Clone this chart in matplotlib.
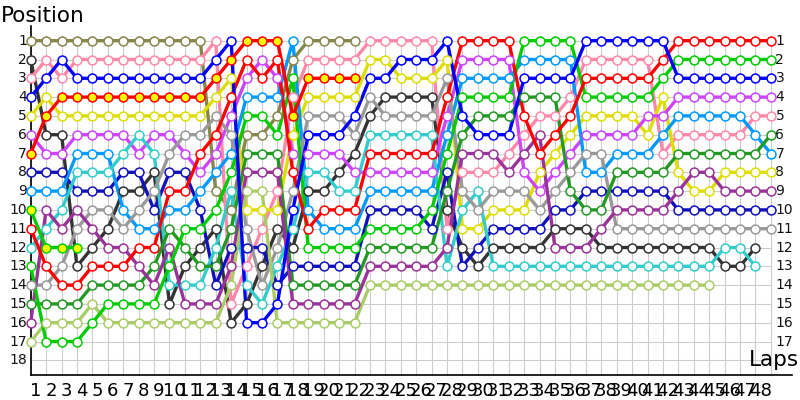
import matplotlib
matplotlib.use("Agg")
import matplotlib.pyplot as plt

N = None
laps = list(range(0, 49))
positions = list(range(1, 19))
right_labels = list(range(1, 18))

olive     = [1,1,1,1,1,1,1,1,1,1,1,1,9,10,6,6,5,2,1,1,1,1] + [N]*27
dkgray    = [2,6,6,13,12,11,9,9,8,15,13,12,11,16,15,13,11,12,9,9,8,7,5,4,4,4,4,10,12,13,12,12,12,12,11,11,11,12,12,12,12,12,12,12,12,13,13,12,N]
pink      = [3,2,3,2,2,2,2,2,2,2,2,2,1,15,13,11,9,4,2,2,2,2,1,1,1,1,1,11,8,8,8,7,6,5,5,4,2,2,2,2,2,7,6,6,6,6,6,5,5]
blue      = [4,3,2,3,3,3,3,3,3,3,3,3,2,1,16,16,15,10,6,6,6,5,3,3,2,2,2,1,5,6,6,6,3,3,3,3,1,1,1,1,1,1,3,3,3,3,3,3,3]
yellow    = [5,4,5,5,5,5,5,5,5,5,5,5,4,3,10,10,10,6,4,4,4,4,2,2,3,3,3,2,11,11,10,10,10,8,7,6,5,5,5,5,6,4,8,9,9,8,8,8,8]
lpurple   = [6,7,7,6,6,6,6,7,6,6,7,8,7,5,3,2,3,7,7,7,7,8,8,8,8,8,8,5,2,2,2,2,8,9,8,7,6,6,6,6,5,5,4,4,4,4,4,4,4]
red_a     = [7,5,4,4,4,4,4,4,4,4,4,4,3,2,1,1,1,5,3,3,3,3] + [N]*27
navy      = [8,8,8,9,9,9,8,8,10,8,8,10,14,12,12,12,14,13,13,13,13,13,10,10,10,10,11,8,13,12,11,11,11,11,10,10,9,9,9,9,9,9,10,10,10,10,10,10,10]
lblue     = [9,9,9,7,7,7,10,11,11,10,10,9,8,7,4,4,4,1,10,11,11,11,9,9,9,9,9,6,3,3,3,3,2,2,2,2,8,8,7,7,7,6,5,5,5,5,5,6,7]
green_a   = [10,12,12,12] + [N]*45
red_b     = [11,13,14,14,13,13,13,12,12,9,9,7,6,4,2,3,2,8,11,10,10,10,7,7,7,7,7,4,1,1,1,1,5,7,6,5,3,3,3,3,3,2,1,1,1,1,1,1,1]
cyan      = [12,11,10,8,8,8,7,6,7,14,14,14,12,9,14,15,13,11,8,8,9,9,6,6,6,6,6,13,10,9,13,13,13,13,13,13,13,13,13,13,13,13,13,13,13,12,12,13,N]
green_b   = [13,17,17,17,16,15,15,15,15,13,11,11,10,8,5,5,6,3,12,12,12,12,11,11,11,11,10,7,4,4,4,4,1,1,1,1,4,4,4,4,4,3,2,2,2,2,2,2,2]
gray      = [14,14,13,11,10,10,11,10,9,7,6,6,5,6,11,14,12,9,5,5,5,6,4,5,5,5,5,3,9,10,9,9,9,10,9,8,7,7,11,11,11,11,11,11,11,11,11,11,11]
fgreen    = [15,15,15,15,14,14,14,14,13,11,12,13,13,11,7,7,7,14,14,14,14,14,12,12,12,12,12,9,6,5,5,5,4,4,4,9,10,10,8,8,8,8,7,7,7,7,7,7,6]
purple    = [16,10,11,10,11,12,12,13,14,12,15,15,15,13,8,8,8,15,15,15,15,15,13,13,13,13,13,12,7,7,7,8,7,6,12,12,12,11,10,10,10,10,9,8,8,9,9,9,9]
palegreen = [17,16,16,16,15,16,16,16,16,16,16,16,16,14,9,9,16,16,16,16,16,16,14,14,14,14,14,14,14,14,14,14,14,14,14,14,14,14,14,14,14,14,14,14,14] + [N]*4

series = [
    (olive, "#86864a", "white"),
    (dkgray, "#333333", "white"),
    (pink, "#ff88aa", "white"),
    (yellow, "#dddd00", "white"),
    (lpurple, "#cc44ff", "white"),
    (navy, "#1111bb", "white"),
    (lblue, "#0099ff", "white"),
    (cyan, "#33cccc", "white"),
    (gray, "#999999", "white"),
    (fgreen, "#229922", "white"),
    (purple, "#993399", "white"),
    (palegreen, "#aacc66", "white"),
    (green_b, "#00cc00", "white"),
    (green_a, "#00cc00", "#ffff00"),
    (red_b, "#ff0000", "white"),
    (blue, "#0000ff", "white"),
    (red_a, "#ff0000", "#ffff00"),
]

X0, DX, Y0, DY = 30.7, 15.42, 40.7, 18.8
W, H = 800, 400
fig = plt.figure(figsize=(W / 100, H / 100), dpi=100)
ax = fig.add_axes([0, 0, 1, 1])
ax.set_xlim((0 - X0) / DX, (W - X0) / DX)
ax.set_ylim(1 + (H - Y0) / DY, 1 + (0 - Y0) / DY)
ax.axis("off")

last_lap = laps[-1]
# grid
for i in laps:
    ax.plot([i, i], [0.75, 18.78], color="#cccccc", lw=0.8, zorder=1)
for p in positions:
    ax.plot([0, last_lap], [p, p], color="#cccccc", lw=0.8, zorder=1)

# axes lines
ax.plot([0, 0], [18.78, 0.2], color="black", lw=1.2, zorder=2)
ax.plot([0, 49.4], [18.78, 18.78], color="black", lw=1.2, zorder=2)

for k, (vals, col, face) in enumerate(series):
    xs = [i for i, v in zip(laps, vals) if v is not None]
    ys = [v for v in vals if v is not None]
    ax.plot(xs, ys, color=col, lw=2.4, solid_joinstyle="round", zorder=3 + k * 0.01)
    ax.plot(xs, ys, ls="none", marker="o", ms=6.4, mfc=face, mec=col, mew=1.1,
            zorder=4 + k * 0.01)

for p in positions:
    ax.text(-0.25, p, str(p), ha="right", va="center", fontsize=10, color="#111111")
for p in right_labels:
    ax.text(last_lap + 0.3, p, str(p), ha="left", va="center", fontsize=10, color="#111111")

bottom_y = 1 + (399.5 - Y0) / DY
for i in laps[1:]:
    ax.text(i - 0.68, bottom_y, str(i), ha="center", va="bottom", fontsize=13, color="black")

ax.text(-1.95, -0.3, "Position", ha="left", va="center", fontsize=15.5, color="black")
ax.text(49.85, 18.5, "Laps", ha="right", va="bottom", fontsize=15.5, color="black")

fig.savefig("out.png", dpi=100)
